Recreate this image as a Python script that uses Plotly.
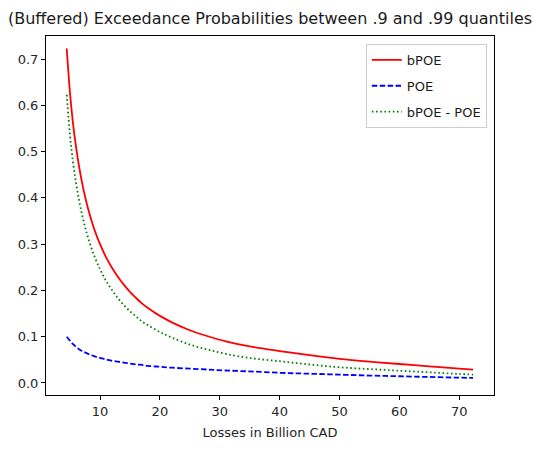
import plotly.graph_objects as go

# Losses (billion CAD) between the .9 and .99 quantiles
losses = [4.44, 5.0, 5.5, 6.0, 6.5, 7.0, 7.5, 8.0, 9.0, 10.0, 11.0, 12.0, 13.0, 14.0, 15.0,
          16.0, 17.0, 18.0, 20.0, 22.0, 25.0, 28.0, 31.0, 35.0, 40.0, 45.0, 50.0, 55.0,
          60.0, 65.0, 70.0, 72.3]
bpoe = [0.723, 0.625, 0.560, 0.510, 0.468, 0.433, 0.403, 0.377, 0.334, 0.300, 0.272, 0.249,
        0.229, 0.212, 0.197, 0.184, 0.172, 0.162, 0.145, 0.131, 0.114, 0.101, 0.090, 0.079,
        0.069, 0.060, 0.052, 0.046, 0.041, 0.036, 0.031, 0.029]
poe = [0.100, 0.091, 0.084, 0.078, 0.073, 0.069, 0.066, 0.063, 0.058, 0.054, 0.051, 0.048,
       0.046, 0.044, 0.042, 0.040, 0.039, 0.037, 0.035, 0.033, 0.031, 0.029, 0.027, 0.025,
       0.022, 0.020, 0.018, 0.016, 0.0145, 0.013, 0.0115, 0.011]
diff = [0.623, 0.534, 0.476, 0.432, 0.395, 0.364, 0.337, 0.314, 0.276, 0.246, 0.221, 0.201,
        0.183, 0.168, 0.155, 0.144, 0.133, 0.125, 0.110, 0.098, 0.083, 0.072, 0.063, 0.054,
        0.047, 0.040, 0.034, 0.030, 0.0265, 0.023, 0.0195, 0.018]

x_ticks = [10, 20, 30, 40, 50, 60, 70]
y_ticks = [0.0, 0.1, 0.2, 0.3, 0.4, 0.5, 0.6, 0.7]

font = "DejaVu Sans, sans-serif"
fig = go.Figure()
fig.add_trace(go.Scatter(x=losses, y=bpoe, name="bPOE", mode="lines", line_shape="spline",
                         legendgroup="a",
                         line=dict(color="#ff0000", width=1.8)))
fig.add_trace(go.Scatter(x=losses, y=poe, name="POE", mode="lines", line_shape="spline",
                         legendgroup="b",
                         line=dict(color="#0000ff", width=1.8, dash="5.5px,2.4px")))
fig.add_trace(go.Scatter(x=losses, y=diff, name="bPOE - POE", mode="lines", line_shape="spline",
                         legendgroup="c",
                         line=dict(color="#008000", width=1.8, dash="1.6px,2.6px")))

axis_common = dict(showline=True, linecolor="black", linewidth=1, mirror=True,
                   ticks="outside", ticklen=4, tickcolor="black", showgrid=False,
                   zeroline=False, tickfont=dict(family=font, size=13, color="#262626"))

fig.update_layout(
    width=534, height=450,
    margin=dict(l=46, r=40, t=36, b=52),
    paper_bgcolor="white", plot_bgcolor="white",
    font=dict(family=font, color="#262626"),
    title=dict(text="(Buffered) Exceedance Probabilities between .9 and .99 quantiles",
               x=(46 + 494) / 2 / 534, xanchor="center", y=1 - 18 / 450, yanchor="middle",
               font=dict(family=font, size=16, color="#1a1a1a")),
    xaxis=dict(range=[0.98, 75.8], tickvals=x_ticks, ticktext=[str(v) for v in x_ticks],
               title=dict(text="Losses in Billion CAD", font=dict(family=font, size=13), standoff=10),
               **axis_common),
    yaxis=dict(range=[-0.026, 0.75], tickvals=y_ticks, ticktext=[f"{v:.1f}" for v in y_ticks],
               **axis_common),
    legend=dict(x=0.984, y=0.978, xanchor="right", yanchor="top",
                bordercolor="#cccccc", borderwidth=1, bgcolor="white",
                traceorder="grouped", tracegroupgap=6,
                font=dict(family=font, size=13, color="#1a1a1a")),
)

fig.write_html("out.html", config={"displayModeBar": False},
               post_script="document.body.style.margin='0';")
